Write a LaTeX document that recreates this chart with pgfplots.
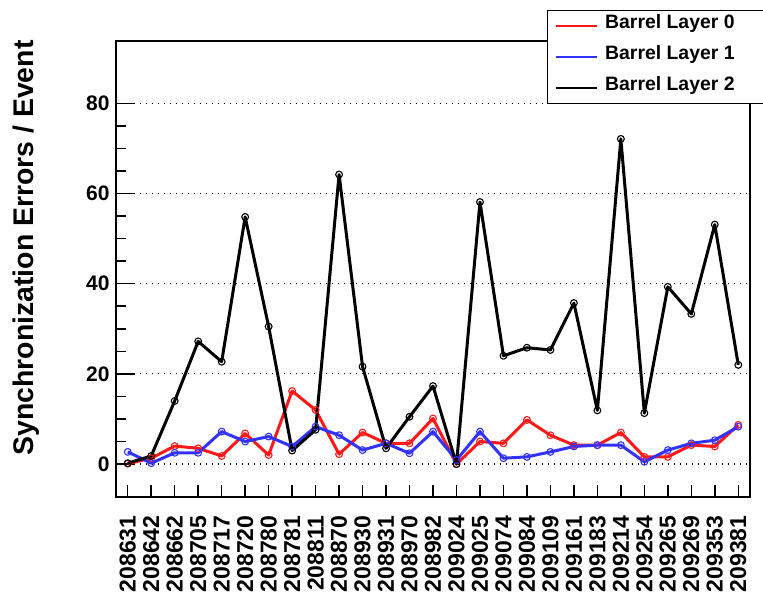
\documentclass[border=0pt]{standalone}
\usepackage{fontspec}
\setmainfont{Liberation Sans}
\usepackage{pgfplots}
\usepackage{pgfplotstable}
\pgfplotsset{compat=1.18}

\definecolor{cred}{RGB}{255,25,25}
\definecolor{cblue}{RGB}{50,50,255}

\pgfplotstableread{
idx L0 L1 L2
0 0.1 2.7 0.2
1 1.3 0.2 1.8
2 4.0 2.5 14.0
3 3.5 2.5 27.2
4 1.8 7.2 22.7
5 6.8 5.0 54.8
6 2.0 6.1 30.5
7 16.2 3.9 3.0
8 12.0 8.3 7.6
9 2.2 6.4 64.2
10 7.0 3.1 21.6
11 4.6 4.6 3.5
12 4.6 2.4 10.5
13 10.1 7.2 17.3
14 0.0 0.9 0.0
15 5.0 7.2 58.1
16 4.6 1.3 24.0
17 9.8 1.6 25.8
18 6.4 2.7 25.3
19 4.2 3.9 35.7
20 4.2 4.2 11.9
21 7.0 4.2 72.1
22 1.6 0.5 11.3
23 1.6 3.1 39.3
24 4.2 4.6 33.3
25 3.9 5.3 53.1
26 8.7 8.3 22.0
}\data

\begin{document}
\begin{tikzpicture}
\useasboundingbox (0pt,0pt) rectangle (381.5pt,300.5pt);
\begin{axis}[
  at={(58pt,52pt)}, anchor=south west,
  scale only axis, width=317pt, height=228pt,
  xmin=-0.5, xmax=26.5, ymin=-7.3, ymax=93.8,
  xtick={0,...,26},
  xticklabels={208631,208642,208662,208705,208717,208720,208780,208781,208811,208870,208930,208931,208970,208982,209024,209025,209074,209084,209109,209161,209183,209214,209254,209265,209269,209353,209381},
  ytick={0,20,40,60,80},
  minor y tick num=3,
  xtick pos=bottom, ytick pos=left,
  tick align=inside,
  major tick length=9.5pt, minor tick length=5pt,
  xtick style={/pgfplots/major tick length=6pt},
  tick style={black, line width=0.75pt},
  axis line style={black, line width=0.75pt},
  ymajorgrids,
  major grid style={black, line width=0.6pt, dash pattern=on 0.6pt off 2.4pt},
  /pgf/number format/assume math mode=true,
  yticklabel style={font=\bfseries\fontsize{10.5}{12}\selectfont, inner xsep=3pt},
  xticklabel style={font=\bfseries\fontsize{11.5}{13}\selectfont, rotate=90, anchor=east, inner xsep=9pt, inner ysep=0pt},
  ylabel={Synchronization Errors / Event},
  ylabel style={font=\bfseries\fontsize{14.2}{16}\selectfont, at={(axis description cs:-0.1309,1.0022)}, anchor=base east, rotate=0, inner sep=0pt},
  legend style={at={(axis description cs:0.6798,1.068)}, anchor=north west,
    draw=black, line width=0.6pt, fill=white,
    font=\bfseries\fontsize{9.7}{11}\selectfont,
    inner xsep=3.5pt, inner ysep=0pt, row sep=0pt, column sep=3.5pt,
    nodes={inner xsep=0pt, inner ysep=0pt, text height=9pt, text depth=6.5pt}},
  legend cell align=left,
  legend image code/.code={\draw[#1, mark=none, line width=1.3pt] (0pt,0pt) -- (20.5pt,0pt);},
]
\addplot[cred, line width=1.5pt, line join=round, mark=o, mark size=1.7pt, mark options={solid, line width=0.55pt}] table[x=idx,y=L0] {\data};
\addlegendentry{Barrel Layer 0\hspace*{18pt}}
\addplot[cblue, line width=1.5pt, line join=round, mark=o, mark size=1.7pt, mark options={solid, line width=0.55pt}] table[x=idx,y=L1] {\data};
\addlegendentry{Barrel Layer 1\hspace*{18pt}}
\addplot[black, line width=1.5pt, line join=round, mark=o, mark size=1.7pt, mark options={solid, line width=0.55pt}] table[x=idx,y=L2] {\data};
\addlegendentry{Barrel Layer 2\hspace*{18pt}}
\end{axis}
\end{tikzpicture}
\end{document}
